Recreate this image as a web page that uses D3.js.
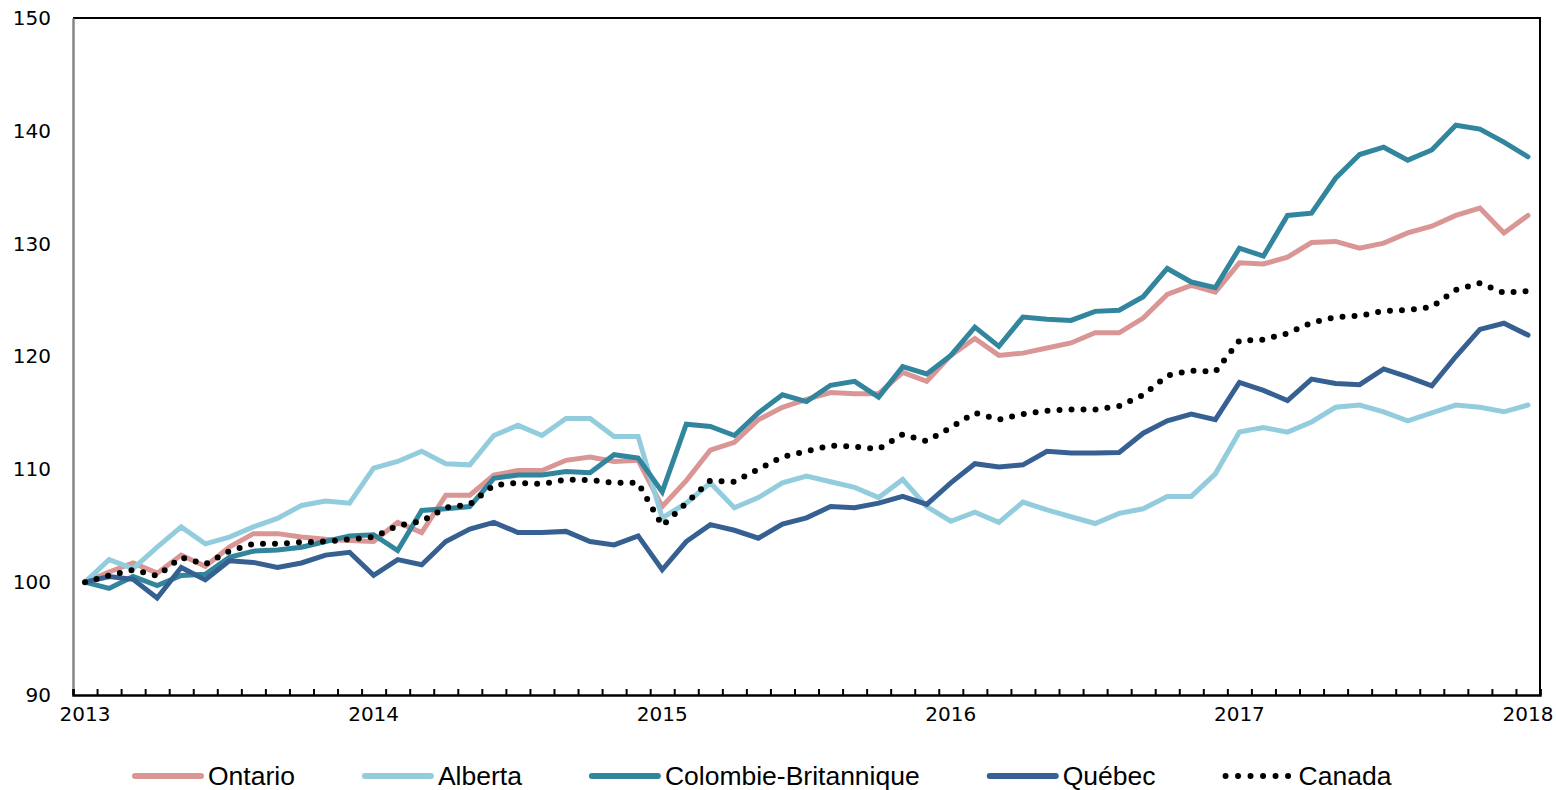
<!DOCTYPE html>
<html>
<head>
<meta charset="utf-8">
<script src="https://cdn.jsdelivr.net/npm/d3@7"></script>
<style>
  body { margin: 0; background: #fff; }
  svg { display: block; }
</style>
</head>
<body>
<svg id="chart" width="1556" height="790"></svg>
<script>
// monthly index, janvier 2013 = 100
var years = ["2013", "2014", "2015", "2016", "2017", "2018"];
var yTicks = [90, 100, 110, 120, 130, 140, 150];

var ontario = [100, 100.9, 101.7, 100.8, 102.4, 101.4, 103.1, 104.3, 104.3, 104.0, 103.8, 103.7,
    103.6, 105.3, 104.4, 107.7, 107.7, 109.5, 109.9, 109.9, 110.8, 111.1, 110.7, 110.8,
    106.7, 109.0, 111.7, 112.4, 114.4, 115.5, 116.2, 116.8, 116.7, 116.7, 118.6, 117.8,
    120.1, 121.6, 120.1, 120.3, 120.75, 121.2, 122.1, 122.1, 123.4, 125.5, 126.3, 125.7,
    128.3, 128.2, 128.8, 130.1, 130.2, 129.6, 130.05, 130.95, 131.55, 132.5, 133.15, 130.95,
    132.5];

var alberta = [100, 102.0, 101.2, 103.1, 104.9, 103.4, 104.0, 104.9, 105.65, 106.8, 107.2, 107.0,
    110.1, 110.7, 111.6, 110.5, 110.4, 113.0, 113.9, 113.0, 114.5, 114.5, 112.9, 112.9,
    105.7, 107.0, 108.8, 106.6, 107.5, 108.8, 109.4, 108.9, 108.4, 107.5, 109.1, 106.7,
    105.4, 106.2, 105.3, 107.1, 106.4, 105.8, 105.2, 106.1, 106.5, 107.6, 107.6, 109.6,
    113.3, 113.7, 113.3, 114.2, 115.5, 115.7, 115.1, 114.3, 115.0, 115.7, 115.5, 115.1,
    115.7];

var colombie = [100, 99.45, 100.5, 99.7, 100.6, 100.7, 102.2, 102.75, 102.85, 103.1, 103.6, 104.1,
    104.2, 102.8, 106.35, 106.5, 106.7, 109.2, 109.5, 109.5, 109.8, 109.7, 111.3, 111.0,
    108.0, 114.0, 113.8, 113.0, 115.0, 116.6, 116.0, 117.45, 117.8, 116.4, 119.1, 118.45,
    120.1, 122.6, 120.9, 123.5, 123.3, 123.2, 124.0, 124.1, 125.3, 127.8, 126.6, 126.1,
    129.6, 128.9, 132.5, 132.7, 135.8, 137.9, 138.55, 137.4, 138.3, 140.5, 140.15, 139.0,
    137.7];

var quebec = [100, 100.5, 100.25, 98.6, 101.3, 100.2, 101.9, 101.75, 101.3, 101.7, 102.4, 102.65,
    100.6, 102.0, 101.55, 103.6, 104.7, 105.3, 104.4, 104.4, 104.5, 103.6, 103.3, 104.1,
    101.1, 103.6, 105.1, 104.6, 103.9, 105.15, 105.7, 106.7, 106.6, 107.0, 107.6, 106.9,
    108.8, 110.5, 110.2, 110.4, 111.6, 111.45, 111.45, 111.5, 113.2, 114.3, 114.9, 114.4,
    117.7, 117.0, 116.1, 118.0, 117.6, 117.5, 118.9, 118.2, 117.4, 120.0, 122.4, 122.95,
    121.9];

var canada = [100, 100.6, 101.1, 100.55, 102.2, 101.6, 102.75, 103.4, 103.4, 103.55, 103.6, 103.8,
    104.0, 105.0, 105.4, 106.6, 106.9, 108.6, 108.8, 108.7, 109.1, 109.05, 108.8, 108.8,
    105.0, 107.0, 109.0, 108.9, 110.0, 111.1, 111.6, 112.1, 112.0, 111.8, 113.1, 112.5,
    113.7, 115.0, 114.4, 114.9, 115.2, 115.3, 115.3, 115.6, 116.6, 118.3, 118.75, 118.65,
    121.4, 121.5, 122.05, 123.0, 123.5, 123.6, 124.05, 124.1, 124.4, 125.9, 126.5, 125.65,
    125.8];

var months = d3.timeMonth.range(new Date(2013, 0, 1), new Date(2018, 1, 1));

var series = [
    {name: "Ontario", values: ontario, color: "#d99694", dotted: false},
    {name: "Alberta", values: alberta, color: "#93cddd", dotted: false},
    {name: "Colombie-Britannique", values: colombie, color: "#31859c", dotted: false},
    {name: "Québec", values: quebec, color: "#376092", dotted: false},
    {name: "Canada", values: canada, color: "#000000", dotted: true}
];

var plotLeft = 73, plotRight = 1540, plotTop = 18, plotBottom = 695;

var svg = d3.select("#chart");

var x = d3.scaleBand()
    .domain(months)
    .range([plotLeft, plotRight])
    .padding(0);

var xEdge = d3.scaleLinear()
    .domain([0, months.length])
    .range([plotLeft, plotRight]);

var y = d3.scaleLinear()
    .domain([90, 150])
    .range([plotBottom, plotTop]);

var fmtYear = d3.timeFormat("%Y");
var axisFont = "'DejaVu Sans', Verdana, sans-serif";

// top and right border
svg.append("path")
    .attr("d", "M" + plotLeft + "," + plotTop + "H" + plotRight + "V" + plotBottom)
    .attr("fill", "none")
    .attr("stroke", "#000")
    .attr("stroke-width", 2);

// y axis
var yAxis = svg.append("g")
    .attr("transform", "translate(" + plotLeft + ",0)")
    .call(d3.axisLeft(y).tickValues(yTicks).tickSize(0).tickPadding(22));
yAxis.select(".domain").attr("stroke", "#868686").attr("stroke-width", 2.5);
yAxis.selectAll("text")
    .attr("font-family", axisFont)
    .attr("font-size", "20px")
    .attr("fill", "#000");

// x axis: a tick between each month, year labels under January
var xTicks = svg.append("g")
    .attr("transform", "translate(0," + plotBottom + ")")
    .call(d3.axisBottom(xEdge).tickValues(d3.range(0, months.length + 1)).tickSize(-6).tickFormat(""));
xTicks.select(".domain").attr("stroke", "#000").attr("stroke-width", 2.5);
xTicks.selectAll(".tick line").attr("stroke", "#000").attr("stroke-width", 2);

var januaries = months.filter(function (d) { return d.getMonth() == 0; });
var xLabels = svg.append("g")
    .attr("transform", "translate(0," + plotBottom + ")")
    .call(d3.axisBottom(x).tickValues(januaries).tickSize(0).tickPadding(12).tickFormat(fmtYear));
xLabels.select(".domain").remove();
xLabels.selectAll("text")
    .attr("font-family", axisFont)
    .attr("font-size", "20px")
    .attr("fill", "#000");

// lines
var line = d3.line()
    .x(function (d, i) { return x(months[i]) + x.bandwidth() / 2; })
    .y(function (d) { return y(d); });

series.forEach(function (s) {
    var p = svg.append("path")
        .datum(s.values)
        .attr("d", line)
        .attr("fill", "none")
        .attr("stroke", s.color)
        .attr("stroke-linejoin", "miter");
    if (s.dotted) {
        p.attr("stroke-width", 6)
            .attr("stroke-linecap", "round")
            .attr("stroke-dasharray", "0 12");
    } else {
        p.attr("stroke-width", 5)
            .attr("stroke-linecap", "round");
    }
});

// legend
var legend = svg.append("g");
var lx = 133, ly = 776;
series.forEach(function (s) {
    var item = legend.append("g");
    var l = item.append("line")
        .attr("x1", lx + 2).attr("x2", lx + 68)
        .attr("y1", ly).attr("y2", ly)
        .attr("stroke", s.color)
        .attr("stroke-linecap", "round");
    if (s.dotted) {
        l.attr("stroke-width", 6).attr("stroke-dasharray", "0 12.5");
    } else {
        l.attr("stroke-width", 6);
    }
    var t = item.append("text")
        .attr("x", lx + 75)
        .attr("y", ly + 8.5)
        .attr("font-family", "'Liberation Sans', Arial, sans-serif")
        .attr("font-size", "26.5px")
        .attr("fill", "#000")
        .text(s.name);
    lx = lx + 75 + t.node().getComputedTextLength() + 68;
});
</script>
</body>
</html>
